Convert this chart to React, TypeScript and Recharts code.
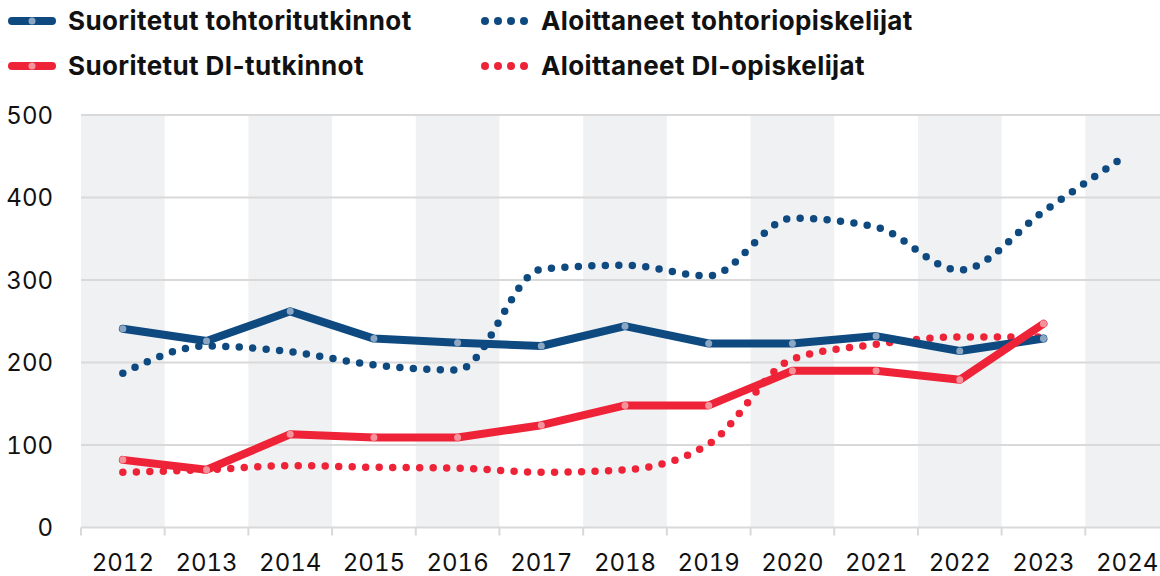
import React from 'react';
import { LineChart, Line, XAxis, YAxis, ReferenceArea, ReferenceLine } from 'recharts';

const years = ['2012', '2013', '2014', '2015', '2016', '2017', '2018', '2019', '2020', '2021', '2022', '2023', '2024'];
const tohtoriSuoritetut = [241, 226, 262, 229, 224, 220, 244, 223, 223, 232, 214, 229, null];
const diSuoritetut = [82, 70, 113, 109, 109, 124, 148, 148, 190, 190, 179, 247, null];
const tohtoriAloittaneet = [187, 220, 213, 197, 191, 313, 318, 305, 375, 364, 312, 383, 452];
const diAloittaneet = [67, 70, 75, 73, 72, 67, 70, 101, 204, 222, 231, 231, null];
const yTicks = [0, 100, 200, 300, 400, 500];

const BLUE = '#0e4a80';
const RED = '#ee2338';
const BLUE_DOT = '#8ba7c3';
const RED_DOT = '#f5939d';
const GRID = '#d9d9d9';
const BAND = '#f0f1f3';
const FONT = 'Inter, "Noto Sans", sans-serif';

const data = years.map((year, i) => ({
  year,
  ts: tohtoriSuoritetut[i],
  ds: diSuoritetut[i],
  ta: tohtoriAloittaneet[i],
  da: diAloittaneet[i],
}));

// shaded every other year, starting from the first
const shadedYears = years.filter((_, i) => i % 2 === 0);

const YearTick = (props: any) => {
  const { x, y, payload } = props;
  const off = payload?.offset ?? 0;
  return (
    <g>
      <line x1={x - off} x2={x - off} y1={y} y2={y + 8} stroke={GRID} strokeWidth={2} />
      <text
        x={x}
        y={y + 43}
        textAnchor="middle"
        fontSize={24}
        fill="#111"
        fontFamily={FONT}
        style={{ fontVariantNumeric: 'tabular-nums' }}
      >
        {payload.value}
      </text>
    </g>
  );
};

const SolidIcon = ({ color, dot }: { color: string; dot: string }) => (
  <svg width={48} height={12} style={{ display: 'block' }}>
    <line x1={4} x2={44} y1={6} y2={6} stroke={color} strokeWidth={8} strokeLinecap="round" />
    <circle cx={24} cy={6} r={3.5} fill={dot} />
  </svg>
);

const DottedIcon = ({ color }: { color: string }) => (
  <svg width={48} height={12} style={{ display: 'block' }}>
    {[0, 1, 2, 3].map((k) => (
      <circle key={k} cx={4 + k * 13} cy={6} r={4} fill={color} />
    ))}
  </svg>
);

const legendItems = [
  { label: 'Suoritetut tohtoritutkinnot', left: 8, top: 15, icon: <SolidIcon color={BLUE} dot={BLUE_DOT} /> },
  { label: 'Aloittaneet tohtoriopiskelijat', left: 481, top: 15, icon: <DottedIcon color={BLUE} /> },
  { label: 'Suoritetut DI-tutkinnot', left: 8, top: 60, icon: <SolidIcon color={RED} dot={RED_DOT} /> },
  { label: 'Aloittaneet DI-opiskelijat', left: 481, top: 60, icon: <DottedIcon color={RED} /> },
];

export default function App() {
  return (
    <div style={{ position: 'absolute', left: 0, top: 0, width: 1160, height: 576, overflow: 'hidden', background: '#fff', fontFamily: FONT }}>
      {legendItems.map((it) => (
        <div key={it.label} style={{ position: 'absolute', left: it.left, top: it.top, display: 'flex', alignItems: 'center' }}>
          {it.icon}
          <span style={{ marginLeft: 12, fontSize: 26, fontWeight: 700, letterSpacing: 0.4, color: '#111', lineHeight: '12px' }}>{it.label}</span>
        </div>
      ))}
      <LineChart width={1170} height={576} data={data} margin={{ top: 115, right: 1, bottom: 0, left: 0 }}>
        {shadedYears.map((y) => (
          <ReferenceArea key={y} x1={y} x2={y} y1={0} y2={500} fill={BAND} fillOpacity={1} stroke="none" ifOverflow="visible" />
        ))}
        {yTicks.slice(1).map((t) => (
          <ReferenceLine key={t} y={t} stroke={GRID} strokeWidth={2} />
        ))}
        <XAxis
          dataKey="year"
          scale="band"
          interval={0}
          height={48.5}
          tickSize={0}
          tickMargin={0}
          tickLine={false}
          axisLine={{ stroke: GRID, strokeWidth: 2 }}
          tick={<YearTick />}
        />
        <YAxis
          domain={[0, 500]}
          ticks={yTicks}
          width={81}
          tickSize={0}
          tickMargin={28}
          axisLine={false}
          tickLine={false}
          tick={{ fontSize: 24, fill: '#111', fontFamily: FONT, style: { fontVariantNumeric: 'tabular-nums' } }}
        />
        <Line
          dataKey="da"
          type="monotone"
          stroke={RED}
          strokeWidth={7.5}
          strokeDasharray="0 13.5"
          strokeLinecap="round"
          dot={false}
          activeDot={false}
          isAnimationActive={false}
        />
        <Line
          dataKey="ta"
          type="monotone"
          stroke={BLUE}
          strokeWidth={7.5}
          strokeDasharray="0 13.5"
          strokeLinecap="round"
          dot={false}
          activeDot={false}
          isAnimationActive={false}
        />
        <Line
          dataKey="ts"
          type="linear"
          stroke={BLUE}
          strokeWidth={8}
          strokeLinejoin="round"
          strokeLinecap="round"
          dot={{ r: 3.5, fill: BLUE_DOT, stroke: 'none' }}
          activeDot={false}
          isAnimationActive={false}
        />
        <Line
          dataKey="ds"
          type="linear"
          stroke={RED}
          strokeWidth={8}
          strokeLinejoin="round"
          strokeLinecap="round"
          dot={{ r: 3.5, fill: RED_DOT, stroke: 'none' }}
          activeDot={false}
          isAnimationActive={false}
        />
      </LineChart>
    </div>
  );
}
